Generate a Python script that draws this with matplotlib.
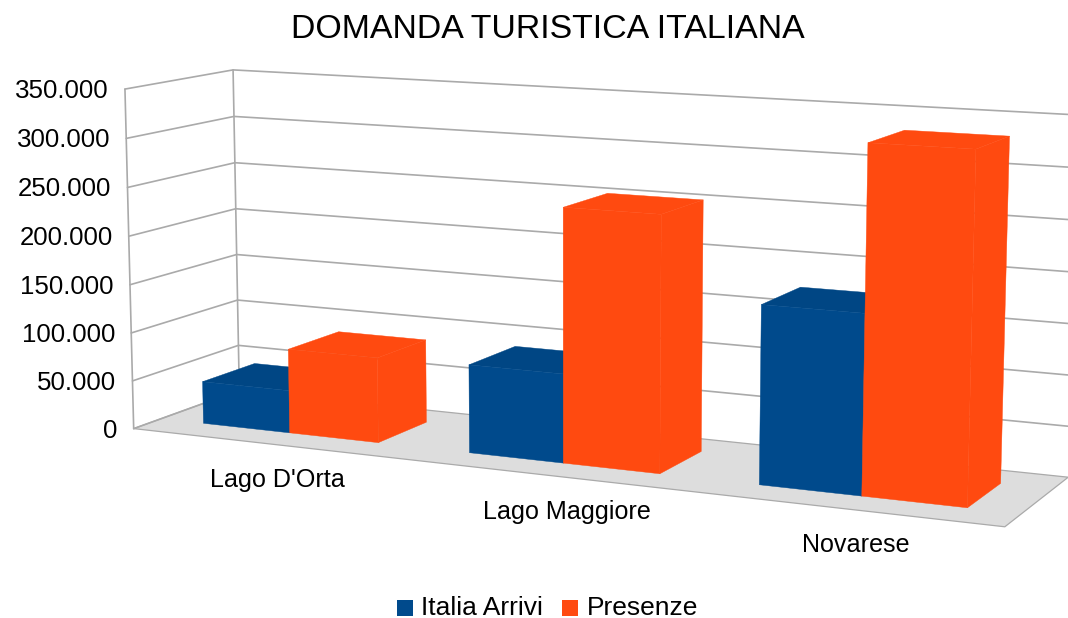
import numpy as np
import matplotlib
matplotlib.use("Agg")
import matplotlib.pyplot as plt
from matplotlib.patches import Polygon, Rectangle

# ---- data ----
title = "DOMANDA TURISTICA ITALIANA"
categories = ["Lago D'Orta", "Lago Maggiore", "Novarese"]
series_names = ["Italia Arrivi", "Presenze"]
italia_arrivi = [44000, 89000, 174000]
presenze = [87000, 253000, 333000]
y_ticks = [0, 50000, 100000, 150000, 200000, 250000, 300000, 350000]
y_labels = ["0", "50.000", "100.000", "150.000", "200.000", "250.000", "300.000", "350.000"]

# ---- styles ----
BLUE, BLUE_TOP, BLUE_SIDE = "#004A8C", "#004684", "#004586"
ORG, ORG_TOP, ORG_SIDE = "#FF4A10", "#FF4A10", "#FF4A10"
GRID = "#AAAAAA"
FLOOR = "#DDDDDD"
FONT = "Liberation Sans"
W, H = 1068, 618
YMAX = y_ticks[-1]

# ---- camera: perspective fitted on the corners of the plot box ----
box = [((0, 0, 0), (133, 428)), ((0, 1, 0), (240, 391)), ((3, 1, 0), (1068, 477)),
       ((3, 0, 0), (1005, 527)), ((0, 0, 1), (125.5, 89.5)), ((0, 1, 1), (232.5, 69.5)),
       ((3, 1, 1), (1079, 115))]
A, b = [], []
for (a, c, d), (x, y) in box:
    A.append([a, c, d, 1, 0, 0, 0, 0, -x * a, -x * c, -x * d]); b.append(x)
    A.append([0, 0, 0, 0, a, c, d, 1, -y * a, -y * c, -y * d]); b.append(y)
cam = np.append(np.linalg.lstsq(np.array(A, float), np.array(b, float), rcond=None)[0], 1).reshape(3, 4)


def project(u, v, val):
    p = cam @ np.array([u, v, val / YMAX, 1.0])
    return p[0] / p[2], p[1] / p[2]


fig = plt.figure(figsize=(W / 100, H / 100), dpi=100)
ax = fig.add_axes([0, 0, 1, 1])
ax.set_xlim(0, W)
ax.set_ylim(H, 0)
ax.axis("off")


def face(pts, color, z, edge="none", lw=0):
    ax.add_patch(Polygon([project(*p) for p in pts], closed=True, facecolor=color,
                         edgecolor=edge, linewidth=lw, zorder=z, joinstyle="round"))


def line(pts, z=2):
    xy = np.array([project(*p) for p in pts])
    ax.plot(xy[:, 0], xy[:, 1], color=GRID, lw=1.2, zorder=z, solid_capstyle="round",
            solid_joinstyle="round")


# floor
face([(0, 0, 0), (3, 0, 0), (3, 1, 0), (0, 1, 0)], FLOOR, 1, GRID, 0.9)
# walls
for t in y_ticks[1:]:
    line([(0, 0, t), (0, 1, t), (3, 1, t)])
line([(0, 0, 0), (0, 0, YMAX)])
line([(0, 1, 0), (0, 1, YMAX)])
line([(0, 0, 0), (0, 1, 0)])

# bars
V0, V1 = 0.25, 0.75
z = 3
for i in range(len(categories)):
    for j, (vals, cf, ct, cs) in enumerate([(italia_arrivi, BLUE, BLUE_TOP, BLUE_SIDE),
                                            (presenze, ORG, ORG_TOP, ORG_SIDE)]):
        h = vals[i]
        u0 = i + (1 + j * 2) / 6
        u1 = u0 + 1 / 3
        face([(u1, V0, 0), (u1, V1, 0), (u1, V1, h), (u1, V0, h)], cs, z, cs, 0.3)
        face([(u0, V1, h), (u1, V1, h), (u1, V0, h), (u0, V0, h)], ct, z + 1, ct, 0.3)
        face([(u0, V0, 0), (u1, V0, 0), (u1, V0, h), (u0, V0, h)], cf, z + 2, cf, 0.3)
        z += 3

# text
ax.text(547.5, 29, title, family=FONT, fontsize=24.4, ha="center", va="center", color="black")
for t, s in zip(y_ticks, y_labels):
    x, y = project(0, 0, t)
    ax.text(x - 16, y + 2, s, family=FONT, fontsize=18.6, ha="right", va="center", color="black")
for i, s in enumerate(categories):
    ax.text(277 + 289.5 * i, 479.5 + 32.5 * i, s, family=FONT, fontsize=18.05, ha="center",
            va="center", color="black")

# legend
for x0, c, s, tx in [(397, BLUE, series_names[0], 421), (562, ORG, series_names[1], 587)]:
    ax.add_patch(Rectangle((x0, 600), 16, 16, facecolor=c, edgecolor="none", zorder=5))
    ax.text(tx, 608, s, family=FONT, fontsize=19, ha="left", va="center", color="black")

fig.savefig("out.png", dpi=100)
